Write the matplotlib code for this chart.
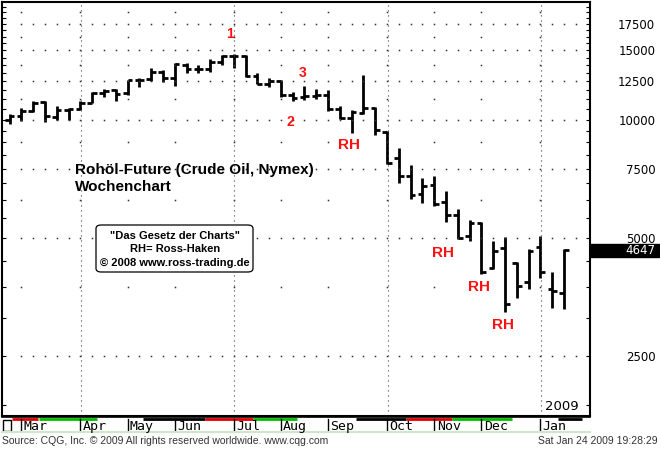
import matplotlib

matplotlib.use("Agg")
import matplotlib.pyplot as plt
import numpy as np
from matplotlib.patches import FancyBboxPatch, Rectangle

# Weekly crude oil bars, week of Feb 25 2008 .. week of Jan 19 2009 (USD cents / bbl)
opens = [10000, 10180, 10520, 11050, 10150, 10560, 10620, 11000, 11670, 11880,
         11650, 12600, 12650, 13200, 12730, 13800, 13480, 13450, 14030, 14500,
         14500, 12900, 12350, 12520, 11520, 11400, 11460, 11560, 10630, 10100,
         10420, 10690, 9300, 8000, 7200, 6450, 6800, 6150, 5700, 5050,
         5450, 4180, 4700, 4310, 3860, 4730, 3700, 3620]
highs = [10305, 10690, 11180, 11180, 10800, 10700, 11180, 11760, 11993, 11990,
         12620, 12782, 13509, 13370, 13912, 13890, 13780, 14299, 14585, 14727,
         14590, 13131, 12760, 12600, 11760, 12186, 11960, 11880, 10800, 10550,
         12982, 10760, 9330, 8450, 7660, 7100, 7180, 6575, 5917, 5550,
         5480, 4905, 5010, 4340, 4680, 5047, 4090, 4680]
lows = [9750, 9900, 10450, 9865, 9950, 9950, 10580, 10990, 11420, 11134,
        11560, 12100, 12500, 12490, 12200, 13130, 13130, 13200, 13800, 13565,
        12850, 12300, 12100, 11390, 11134, 11200, 11260, 10500, 10010, 9250,
        10320, 9120, 7704, 6890, 6270, 6130, 6020, 5480, 4950, 4900,
        4050, 4160, 3240, 3513, 3700, 3950, 3320, 3300]
closes = [10184, 10515, 11021, 10184, 10562, 10623, 11014, 11669, 11852, 11632,
          12596, 12629, 13219, 12735, 13854, 13486, 13462, 14021, 14529, 14508,
          12888, 12326, 12510, 11520, 11377, 11459, 11546, 10623, 10118, 10455,
          10689, 9388, 7770, 7185, 6415, 6781, 6104, 5704, 4993, 5444,
          4081, 4628, 3387, 3771, 4634, 4083, 3651, 4647]
last_price = "4647"

months = ["Mar", "Apr", "May", "Jun", "Jul", "Aug", "Sep", "Oct", "Nov", "Dec", "Jan"]
month_start = [1, 6, 10, 14, 19, 23, 27, 32, 36, 40, 45]   # bar index of first week
quarter_start = [6, 19, 32, 45]
price_ticks = [2500, 5000, 7500, 10000, 12500, 15000, 17500]
minor_rows = [3750, 6250, 8750, 11250, 13750, 16250, 18750]

# (text, bar position, price) for the hand-drawn marks
marks = [("1", 18.7, 16500), ("3", 24.8, 13130), ("2", 23.8, 9850),
         ("RH", 28.8, 8630), ("RH", 36.7, 4571), ("RH", 39.8, 3745), ("RH", 41.8, 2997)]

# coloured strip above the month names (bar-index spans)
strip = [(0.2, 2.4, "#e00000"), (2.5, 7.4, "#00c000"), (11.3, 16.6, "black"),
         (16.6, 20.6, "#e00000"), (20.6, 24.4, "#00c000"), (29.4, 33.6, "black"),
         (33.6, 37.5, "#e00000"), (37.5, 42.6, "#00c000"), (46.5, 48.5, "black")]

W, H = 660, 449
fig = plt.figure(figsize=(W / 100, H / 100), dpi=100)
fig.patch.set_facecolor("white")

XL = (-0.64, 49.2)
ax = fig.add_axes([2 / W, 1 - 416 / H, 588 / W, 414 / H])
ax.set_yscale("log")
ax.set_ylim(1758, 19920)
ax.set_xlim(*XL)

x = np.arange(len(closes))
ax.vlines(x, lows, highs, color="black", lw=2.0)
ax.hlines(opens, x - 0.4, x, color="black", lw=2.0)
ax.hlines(closes, x, x + 0.4, color="black", lw=2.0)

# dotted grid: dots at every week slot on the labelled levels, sparse dots at month starts
slots = np.arange(1, len(closes) + 1)
for p in price_ticks:
    ax.plot(slots, [p] * len(slots), ls="none", marker="s", ms=1.1, color="#333", mew=0)
for p in minor_rows:
    ax.plot(month_start, [p] * len(month_start), ls="none", marker="s", ms=1.1,
            color="#333", mew=0)
for q in quarter_start:
    ax.axvline(q + 0.05, color="#444", lw=0.8, ls=(0, (1, 3.5)))

ax.yaxis.tick_right()
ax.set_yticks(price_ticks)
ax.set_yticklabels([str(p) for p in price_ticks])
ax.set_yticks(np.arange(1875, 19900, 625), minor=True)
ax.yaxis.set_minor_formatter(plt.NullFormatter())
ax.tick_params(axis="y", which="both", direction="in", left=True, right=True,
               labelleft=False, labelright=True, length=3, width=0.8)
ax.tick_params(axis="y", which="major", pad=47, labelsize=8.5)
for lab in ax.get_yticklabels():
    lab.set_horizontalalignment("right")
ax.set_xticks([])
for s in ax.spines.values():
    s.set_linewidth(1.5)

for txt, bx, py in marks:
    ax.text(bx, py, txt, color="#ff1010", fontsize=10 if txt != "RH" else 11,
            fontweight="bold", ha="center", va="center", family="Liberation Sans")

ax.text(48.2, 1790, "2009", ha="right", va="bottom", fontsize=9.5)

# last price box
fig.patches.append(Rectangle((590 / W, 1 - 257 / H), 70 / W, 13 / H,
                             transform=fig.transFigure, color="black"))
fig.text(655 / W, 1 - 251 / H, last_price, color="white", ha="right", va="center",
         fontsize=8.5)

fig.text(75 / W, 1 - 170 / H, "Rohöl-Future (Crude Oil, Nymex)", fontsize=11,
         fontweight="bold", family="Liberation Sans", va="center")
fig.text(75 / W, 1 - 187 / H, "Wochenchart", fontsize=11,
         fontweight="bold", family="Liberation Sans", va="center")

fig.patches.append(FancyBboxPatch((96 / W, 1 - 272 / H), 157 / W, 47 / H,
                                  boxstyle="round,pad=0,rounding_size=0.008",
                                  transform=fig.transFigure, fc="white", ec="black", lw=0.9))
for i, line in enumerate(['"Das Gesetz der Charts"', "RH= Ross-Haken",
                          "© 2008 www.ross-trading.de"]):
    fig.text(175 / W, 1 - (236 + 13.5 * i) / H, line, fontsize=8, fontweight="bold",
             family="Liberation Sans", ha="center", va="center")

# month strip
mx = fig.add_axes([2 / W, 1 - 432 / H, 588 / W, 15 / H])
mx.set_xlim(*XL)
mx.set_ylim(0, 1)
mx.set_xticks([])
mx.set_yticks([])
for s in ("left", "right"):
    mx.spines[s].set_visible(False)
mx.spines["top"].set_linewidth(1.2)
mx.spines["bottom"].set_color("#cfe6cc")
mx.spines["bottom"].set_linewidth(1.5)
for a, b, c in strip:
    mx.plot([a, b], [0.9, 0.9], color=c, lw=2, solid_capstyle="butt")
mx.add_patch(Rectangle((-0.55, 0.05), 0.65, 0.75, fc="white", ec="black", lw=1.0))
for m, s in zip(months, month_start):
    mx.plot([s, s], [0, 0.85], color="black", lw=1.0)
    mx.text(s + 0.2, 0.38, m, fontsize=9.5, family="DejaVu Sans Mono", va="center")

fig.text(2 / W, 1 - 441 / H, "Source: CQG, Inc. © 2009 All rights reserved worldwide. www.cqg.com",
         fontsize=7.5, color="#333", va="center", family="Liberation Sans")
fig.text(658 / W, 1 - 441 / H, "Sat Jan 24 2009 19:28:29", fontsize=7.5, color="#333",
         ha="right", va="center", family="Liberation Sans")

fig.savefig("out.png", dpi=100)
